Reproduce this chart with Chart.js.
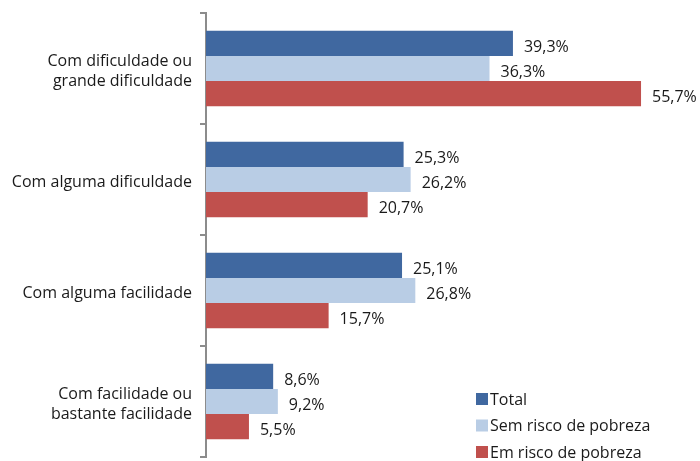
<!DOCTYPE html>
<html>
<head>
<meta charset="utf-8">
<script src="https://cdn.jsdelivr.net/npm/chart.js@4/dist/chart.umd.min.js"></script>
<style>
html,body{margin:0;padding:0;background:#fff;}
#wrap{width:700px;height:461px;position:relative;}
</style>
</head>
<body>
<div id="wrap"><canvas id="c" width="700" height="461"></canvas></div>
<script>
const categories = [
  ["Com dificuldade ou", "grande dificuldade"],
  "Com alguma dificuldade",
  "Com alguma facilidade",
  ["Com facilidade ou", "bastante facilidade"]
];
const seriesNames = ["Total", "Sem risco de pobreza", "Em risco de pobreza"];
const totalValues = [39.3, 25.3, 25.1, 8.6];
const semRiscoValues = [36.3, 26.2, 26.8, 9.2];
const emRiscoValues = [55.7, 20.7, 15.7, 5.5];
const seriesColors = ["#4068A0", "#B9CDE5", "#C0504D"];

const FONT = "'Open Sans', 'Noto Sans', sans-serif";

const labelPlugin = {
  id: 'valueLabels',
  afterDatasetsDraw(chart) {
    const ctx = chart.ctx;
    ctx.save();
    ctx.font = "16px " + FONT;
    ctx.fillStyle = "#1a1a1a";
    ctx.textAlign = "left";
    ctx.textBaseline = "middle";
    chart.data.datasets.forEach((ds, di) => {
      const meta = chart.getDatasetMeta(di);
      meta.data.forEach((el, i) => {
        const txt = ds.data[i].toFixed(1).replace('.', ',') + '%';
        ctx.fillText(txt, el.x + 11, el.y + 4);
      });
    });
    ctx.restore();
  }
};

const legendPlugin = {
  id: 'customLegend',
  afterDraw(chart) {
    const ctx = chart.ctx;
    ctx.save();
    ctx.font = "16px " + FONT;
    ctx.textAlign = "left";
    ctx.textBaseline = "middle";
    chart.data.datasets.forEach((ds, di) => {
      const y = 399 + di * 26.5;
      ctx.fillStyle = ds.backgroundColor;
      ctx.fillRect(476, y - 6, 12, 12);
      ctx.fillStyle = "#1a1a1a";
      ctx.fillText(ds.label, 490, y + 1);
    });
    ctx.restore();
  }
};

new Chart(document.getElementById('c'), {
  type: 'bar',
  data: {
    labels: categories,
    datasets: [
      { label: seriesNames[0], data: totalValues, backgroundColor: seriesColors[0] },
      { label: seriesNames[1], data: semRiscoValues, backgroundColor: seriesColors[1] },
      { label: seriesNames[2], data: emRiscoValues, backgroundColor: seriesColors[2] }
    ]
  },
  options: {
    indexAxis: 'y',
    responsive: false,
    animation: false,
    devicePixelRatio: 1,
    layout: { padding: { top: 13, bottom: 4, left: 0, right: 0 } },
    datasets: { bar: { categoryPercentage: 0.68, barPercentage: 1.0, borderWidth: 0 } },
    plugins: { legend: { display: false }, tooltip: { enabled: false } },
    scales: {
      x: { display: false, min: 0, max: 63.25 },
      y: {
        afterFit(scale) { scale.width = 206; scale.paddingTop = 0; scale.paddingBottom = 0; },
        border: { display: true, color: '#8c8c8c', width: 2 },
        grid: { offset: true, drawOnChartArea: false, drawTicks: true, tickLength: 6, color: '#8c8c8c', lineWidth: 2 },
        ticks: { color: '#1a1a1a', font: { family: FONT, size: 16, lineHeight: 1.2 }, padding: 8, labelOffset: 3 }
      }
    }
  },
  plugins: [labelPlugin, legendPlugin]
});
</script>
</body>
</html>
